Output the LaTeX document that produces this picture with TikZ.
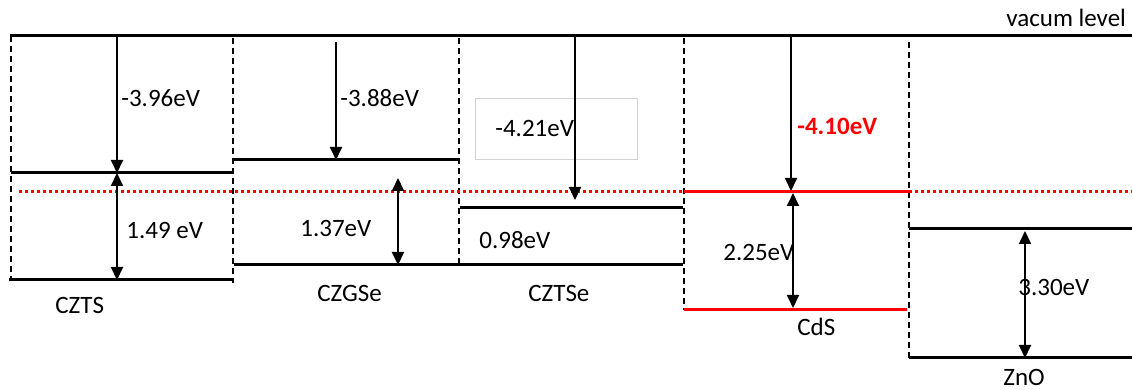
\documentclass[tikz,border=0pt]{standalone}
\usepackage{fontspec}
\setmainfont{Carlito}
\usetikzlibrary{arrows.meta,positioning}

\begin{document}
\begin{tikzpicture}[
  x=0.5pt,y=-0.5pt,
  level/.style={line width=1.5pt},
  fermi/.style={red,line width=1.5pt,dash pattern=on 1.5pt off 1.5pt},
  divider/.style={line width=0.6pt,dash pattern=on 3pt off 2pt},
  arrow/.style={-{Triangle[length=6.5pt,width=6pt]},line width=1pt},
  gaparrow/.style={{Triangle[length=6.5pt,width=6pt]}-{Triangle[length=6.5pt,width=6pt]},line width=1pt},
  lbl/.style={anchor=west,inner sep=0pt,font=\fontsize{12.5}{15}\selectfont},
  valbox/.style={draw=gray!35,line width=0.4pt,anchor=west,minimum width=81pt,minimum height=30.5pt,inner xsep=10pt,text width=61pt,align=left,font=\fontsize{12.5}{15}\selectfont}
]
\useasboundingbox (0,0) rectangle (1132,390);
% vacuum level and dividers
\draw[level] (10,36) coordinate (vac-l) -- (1132,36) coordinate (vac-r);
\node[lbl] (vac) at (1006,18) {vacum level};
\draw[divider] (11,36) -- (11,280);
\draw[divider] (233,38) -- (233,283);
\draw[divider] (459,38) -- (459,265);
\draw[divider] (684,38) -- (684,310);
\draw[divider] (909,42) -- (909,358);
% Fermi level
\draw[fermi] (19,192) coordinate (ef-l) -- (684,192) coordinate (ef-m);
\draw[fermi] (909,192) coordinate (ef-n) -- (1132,192) coordinate (ef-r);
% CZTS
\draw[level] (11,173) -- (234,173);
\draw[level] (9,280) -- (234,280);
\coordinate (czts-vac) at (117,36);
\coordinate (czts-cb) at (117,173);
\coordinate (czts-vb) at (117,280);
\draw[arrow] (czts-vac) -- (czts-cb);
\draw[gaparrow] (czts-cb) -- (czts-vb);
\node[lbl] (czts-ea) at (121,98) {-3.96eV};
\node[lbl] (czts-eg) at (126,230) {1.49 eV};
\node[lbl] (czts) at (55,305) {CZTS};
% CZGSe
\draw[level] (234,160) -- (459,160);
\draw[level] (234,265) -- (459,265);
\coordinate (czgse-top) at (336,42);
\coordinate (czgse-cb) at (336,160);
\coordinate (czgse-gt) at (398,178);
\coordinate (czgse-vb) at (398,265);
\draw[arrow] (czgse-top) -- (czgse-cb);
\draw[gaparrow] (czgse-gt) -- (czgse-vb);
\node[lbl] (czgse-ea) at (340,98) {-3.88eV};
\node[lbl] (czgse-eg) at (300,228) {1.37eV};
\node[lbl] (czgse) at (317,293) {CZGSe};
% CZTSe
\draw[level] (460,208) -- (683,208);
\draw[level] (459,265) -- (683,265);
\node[valbox] (cztse-ea) at (475,128.5) {-4.21eV};
\coordinate (cztse-vac) at (575,36);
\coordinate (cztse-ef) at (575,200);
\draw[arrow] (cztse-vac) -- (cztse-ef);
\node[lbl] (cztse-eg) at (479,240) {0.98eV};
\node[lbl] (cztse) at (528,293) {CZTSe};
% CdS
\draw[level,red] (ef-m) -- (ef-n);
\draw[level,red] (684,310) -- (907,310);
\coordinate (cds-vac) at (791,36);
\coordinate (cds-cb) at (791,191);
\coordinate (cds-gt) at (793,193);
\coordinate (cds-vb) at (793,308);
\draw[arrow] (cds-vac) -- (cds-cb);
\draw[gaparrow] (cds-gt) -- (cds-vb);
\node[lbl,red,font=\fontsize{12.5}{15}\selectfont\bfseries] (cds-ea) at (797,126) {-4.10eV};
\node[lbl] (cds-eg) at (723,252) {2.25eV};
\node[lbl] (cds) at (797,327) {CdS};
% ZnO
\draw[level] (909,229) -- (1132,229);
\draw[level] (909,358) -- (1132,358);
\coordinate (zno-cb) at (1025,231);
\coordinate (zno-vb) at (1025,358);
\draw[gaparrow] (zno-cb) -- (zno-vb);
\node[lbl] (zno-eg) at (1018,287) {3.30eV};
\node[lbl] (zno) at (1003,377) {ZnO};
\end{tikzpicture}
\end{document}
